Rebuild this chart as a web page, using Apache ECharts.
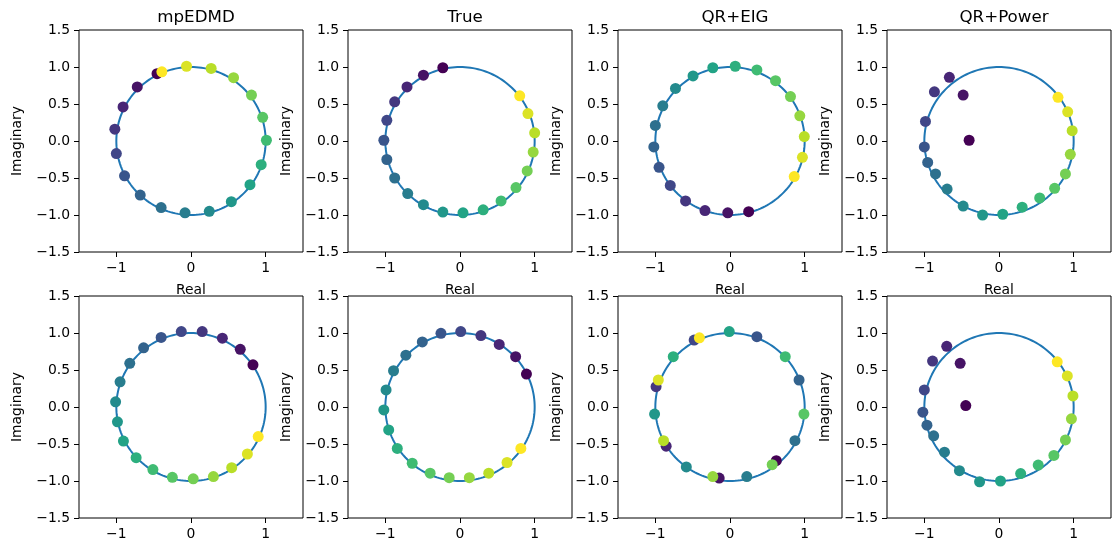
<!DOCTYPE html>
<html>
<head>
<meta charset="utf-8">
<script src="https://cdn.jsdelivr.net/npm/echarts@6/dist/echarts.min.js"></script>
<style>
  html, body { margin: 0; padding: 0; background: #fff; }
  #chart { width: 1112px; height: 545px; }
</style>
</head>
<body>
<div id="chart"></div>
<script>
// Eigenvalue estimates [real, imaginary], listed in colour order (index -> viridis).
const titles = ['mpEDMD', 'True', 'QR+EIG', 'QR+Power'];

const mpEDMD_1 = [[-0.455,0.91],[-0.72,0.73],[-0.91,0.46],[-1.02,0.16],[-1.0,-0.17],[-0.89,-0.47],[-0.68,-0.73],[-0.40,-0.90],[-0.08,-0.97],[0.245,-0.95],[0.54,-0.82],[0.79,-0.59],[0.94,-0.32],[1.01,0.01],[0.96,0.32],[0.81,0.62],[0.57,0.855],[0.27,0.98],[-0.06,1.01],[-0.39,0.935]];
const true_1 = [[-0.23,0.99],[-0.49,0.89],[-0.71,0.73],[-0.875,0.53],[-0.98,0.28],[-1.02,0.01],[-0.98,-0.25],[-0.875,-0.50],[-0.70,-0.71],[-0.49,-0.86],[-0.23,-0.96],[0.04,-0.97],[0.31,-0.93],[0.55,-0.81],[0.75,-0.63],[0.90,-0.405],[0.98,-0.15],[1.0,0.11],[0.91,0.37],[0.80,0.61]];
const qrEig_1 = [[0.25,-0.955],[-0.03,-0.97],[-0.335,-0.94],[-0.595,-0.81],[-0.80,-0.60],[-0.95,-0.355],[-1.02,-0.08],[-1.0,0.21],[-0.90,0.475],[-0.73,0.71],[-0.495,0.88],[-0.23,0.99],[0.07,1.01],[0.36,0.96],[0.61,0.815],[0.81,0.60],[0.935,0.34],[0.995,0.06],[0.97,-0.22],[0.86,-0.48]];
const qrPower_1 = [[-0.40,0.01],[-0.48,0.62],[-0.665,0.86],[-0.865,0.665],[-0.985,0.265],[-1.0,-0.08],[-0.955,-0.29],[-0.85,-0.445],[-0.695,-0.65],[-0.48,-0.88],[-0.22,-1.0],[0.05,-0.99],[0.31,-0.895],[0.545,-0.77],[0.745,-0.64],[0.89,-0.445],[0.955,-0.18],[0.98,0.14],[0.92,0.395],[0.79,0.59]];

const mpEDMD_2 = [[0.83,0.57],[0.66,0.78],[0.42,0.93],[0.15,1.02],[-0.13,1.02],[-0.40,0.94],[-0.635,0.80],[-0.82,0.59],[-0.95,0.34],[-1.01,0.07],[-0.985,-0.20],[-0.905,-0.46],[-0.735,-0.685],[-0.51,-0.845],[-0.25,-0.95],[0.03,-0.97],[0.30,-0.94],[0.545,-0.82],[0.755,-0.635],[0.90,-0.40]];
const true_2 = [[0.89,0.445],[0.745,0.68],[0.525,0.845],[0.28,0.965],[0.01,1.02],[-0.255,0.995],[-0.505,0.88],[-0.725,0.70],[-0.89,0.49],[-0.99,0.23],[-1.02,-0.04],[-0.955,-0.31],[-0.84,-0.56],[-0.64,-0.76],[-0.40,-0.895],[-0.145,-0.955],[0.125,-0.955],[0.385,-0.895],[0.63,-0.75],[0.815,-0.56]];
const qrEig_2 = [[0.62,-0.725],[-0.145,-0.96],[-0.855,-0.53],[-0.99,0.275],[-0.48,0.905],[0.36,0.95],[0.925,0.365],[0.87,-0.455],[0.225,-0.94],[-0.585,-0.81],[-1.01,-0.095],[-0.01,1.02],[-0.76,0.68],[0.74,0.68],[0.99,-0.095],[0.565,-0.78],[-0.23,-0.94],[-0.89,-0.455],[-0.96,0.365],[-0.41,0.935]];
const qrPower_2 = [[-0.445,0.02],[-0.52,0.59],[-0.70,0.82],[-0.89,0.62],[-1.0,0.23],[-1.02,-0.07],[-0.965,-0.245],[-0.875,-0.39],[-0.73,-0.61],[-0.53,-0.86],[-0.26,-1.01],[0.02,-1.0],[0.29,-0.90],[0.525,-0.785],[0.735,-0.655],[0.89,-0.445],[0.97,-0.16],[0.99,0.15],[0.915,0.42],[0.78,0.61]];

const yTicks = [-1.5, -1.0, -0.5, 0.0, 0.5, 1.0, 1.5];
const xTicks = [-1, 0, 1];

const panels = [mpEDMD_1, true_1, qrEig_1, qrPower_1, mpEDMD_2, true_2, qrEig_2, qrPower_2];

const viridis = ['#440154','#482475','#414487','#355f8d','#2a788e','#21918c','#22a884','#44bf70','#7ad151','#bddf26','#fde725'];

// unit circle reference curve
const circle = [];
for (let k = 0; k <= 360; k++) {
  const t = k * Math.PI / 180;
  circle.push([Math.cos(t), Math.sin(t)]);
}

const FONT = 'DejaVu Sans';
const minus = s => s.replace('-', '\u2212');
const lefts = [79, 348, 618, 887];
const tops = [30, 296];
const W = 224, H = 222;

const grid = [], xAxis = [], yAxis = [], series = [], title = [];
const scatterIdx = [];

panels.forEach((pts, i) => {
  const col = i % 4, row = Math.floor(i / 4);
  grid.push({
    left: lefts[col], top: tops[row], width: W, height: H,
    outerBoundsMode: 'none', containLabel: false,
    show: true, borderColor: '#000', borderWidth: 1, backgroundColor: '#fff'
  });
  xAxis.push({
    type: 'value', gridIndex: i, min: -1.5, max: 1.5,
    name: 'Real', nameLocation: 'middle', nameGap: 31,
    nameTextStyle: { fontFamily: FONT, fontSize: 13.9, color: '#000' },
    axisLine: { show: false, onZero: false },
    axisTick: { show: true, inside: false, length: 5, customValues: xTicks, lineStyle: { color: '#000', width: 1 } },
    axisLabel: { customValues: xTicks, margin: 9, fontFamily: FONT, fontSize: 13.9, color: '#000',
                 formatter: v => minus(String(v)) },
    splitLine: { show: false }
  });
  yAxis.push({
    type: 'value', gridIndex: i, min: -1.5, max: 1.5, interval: 0.5,
    name: 'Imaginary', nameLocation: 'middle', nameGap: 55, nameRotate: 90,
    nameTextStyle: { fontFamily: FONT, fontSize: 13.9, color: '#000' },
    axisLine: { show: false, onZero: false },
    axisTick: { show: true, inside: false, length: 5, customValues: yTicks, lineStyle: { color: '#000', width: 1 } },
    axisLabel: { customValues: yTicks, margin: 9, fontFamily: FONT, fontSize: 13.9, color: '#000',
                 formatter: v => minus(v.toFixed(1)) },
    splitLine: { show: false }
  });
  series.push({
    type: 'line', xAxisIndex: i, yAxisIndex: i, data: circle,
    showSymbol: false, symbol: 'none', smooth: false, silent: true, z: 2,
    lineStyle: { color: '#1f77b4', width: 2 }
  });
  scatterIdx.push(series.length);
  series.push({
    type: 'scatter', xAxisIndex: i, yAxisIndex: i, z: 3,
    symbolSize: 11, itemStyle: { opacity: 1 },
    data: pts.map((p, j) => [p[0], p[1], j])
  });
  if (row === 0) {
    title.push({
      text: titles[col], left: lefts[col] + W / 2, top: 4, textAlign: 'center',
      textStyle: { fontFamily: FONT, fontSize: 16.7, fontWeight: 'normal', color: '#000' }
    });
  }
});

const chart = echarts.init(document.getElementById('chart'), null, { renderer: 'canvas' });
chart.setOption({
  animation: false,
  backgroundColor: '#fff',
  title, grid, xAxis, yAxis, series,
  visualMap: {
    show: false, type: 'continuous', dimension: 2, min: 0, max: 19,
    seriesIndex: scatterIdx, inRange: { color: viridis, opacity: 1 }
  }
});
</script>
</body>
</html>
